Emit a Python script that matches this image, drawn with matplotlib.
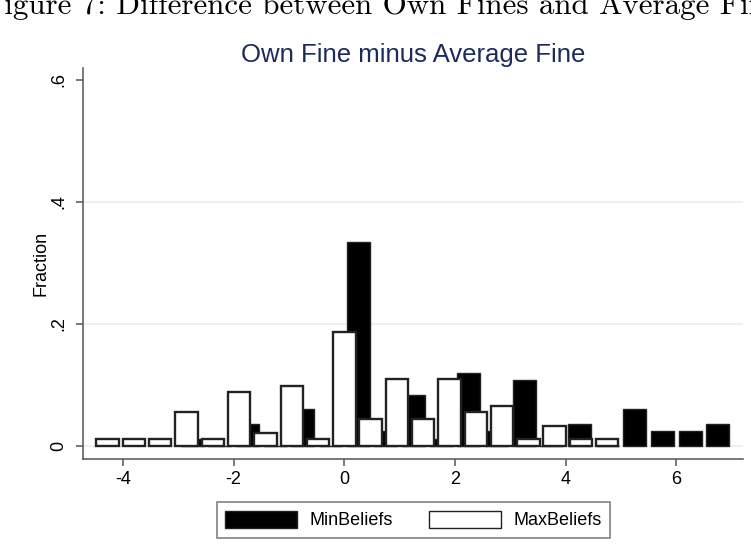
import numpy as np
import matplotlib
matplotlib.use("Agg")
import matplotlib.pyplot as plt
from matplotlib.patches import Patch

# histogram bins (start, width) for each group
min_start = -3.0
min_width = 0.5
max_start = -4.514
max_width = 0.4752

# fraction in each bin
min_frac = [0.012, 0.0, 0.036, 0.0, 0.060, 0.0, 0.334, 0.024, 0.084, 0.012,
            0.120, 0.024, 0.108, 0.0, 0.036, 0.0, 0.060, 0.024, 0.024, 0.036]
max_frac = [0.011, 0.011, 0.011, 0.055, 0.011, 0.088, 0.022, 0.099, 0.011, 0.187,
            0.044, 0.110, 0.044, 0.110, 0.055, 0.066, 0.011, 0.033, 0.011, 0.011]

yticks = [0, 0.2, 0.4, 0.6]
ytick_labels = ["0", ".2", ".4", ".6"]
xticks = [-4, -2, 0, 2, 4, 6]

title = "Own Fine minus Average Fine"
caption = "Figure 7: Difference between Own Fines and Average Fines"

plt.rcParams['font.family'] = ['Liberation Sans', 'DejaVu Sans']

min_centers = min_start + min_width * (np.arange(len(min_frac)) + 0.5)
max_centers = max_start + max_width * (np.arange(len(max_frac)) + 0.5)

fig = plt.figure(figsize=(7.51, 5.57), dpi=100)
ax = fig.add_axes([0.1105, 0.176, 0.8788, 0.702])

for y in [0, 0.2, 0.4]:
    ax.axhline(y, color='#e6eef1', linewidth=1.2, zorder=0)

ax.bar(min_centers, min_frac, width=0.42, color='black', edgecolor='#222222',
       linewidth=1.0, zorder=2)
ax.bar(max_centers, max_frac, width=0.405, color='white', edgecolor='#222222',
       linewidth=1.7, zorder=3)

ax.set_xlim(-4.723, 7.205)
ax.set_ylim(-0.0213, 0.6197)
ax.set_xticks(xticks)
ax.set_xticklabels([str(x) for x in xticks])
ax.set_yticks(yticks)
ax.set_yticklabels(ytick_labels, rotation=90, va='center')

for side in ['top', 'right']:
    ax.spines[side].set_visible(False)
for side in ['left', 'bottom']:
    ax.spines[side].set_color('#555555')
    ax.spines[side].set_linewidth(1.1)

ax.tick_params(axis='both', colors='#555555', length=5, width=1.1,
               labelsize=13, labelcolor='black')
ax.tick_params(axis='x', pad=4)
ax.tick_params(axis='y', pad=6)
ax.set_ylabel("Fraction", fontsize=13, labelpad=1)

fig.text(413 / 751, 1 - 55 / 557, title, ha='center', va='center',
         fontsize=18.5, color='#1c2b5a')
# page caption, cut off by the crop as in the source
fig.text(-16 / 751, 1 - 13.5 / 557, caption, ha='left', va='baseline',
         fontsize=22.3, family='cmr10')

handles = [Patch(facecolor='black', edgecolor='#222222', label='MinBeliefs'),
           Patch(facecolor='white', edgecolor='#222222', linewidth=1.0,
                 label='MaxBeliefs')]
leg = fig.legend(handles=handles, loc='center', bbox_to_anchor=(413.5 / 751, 0.0664),
                 ncol=2, fontsize=13, frameon=True, fancybox=False,
                 handlelength=4.0, handleheight=1.1, handletextpad=0.7,
                 columnspacing=2.0, borderpad=0.45)
leg.get_frame().set_edgecolor('#555555')
leg.get_frame().set_linewidth(1.1)

fig.savefig("out.png", dpi=100)
